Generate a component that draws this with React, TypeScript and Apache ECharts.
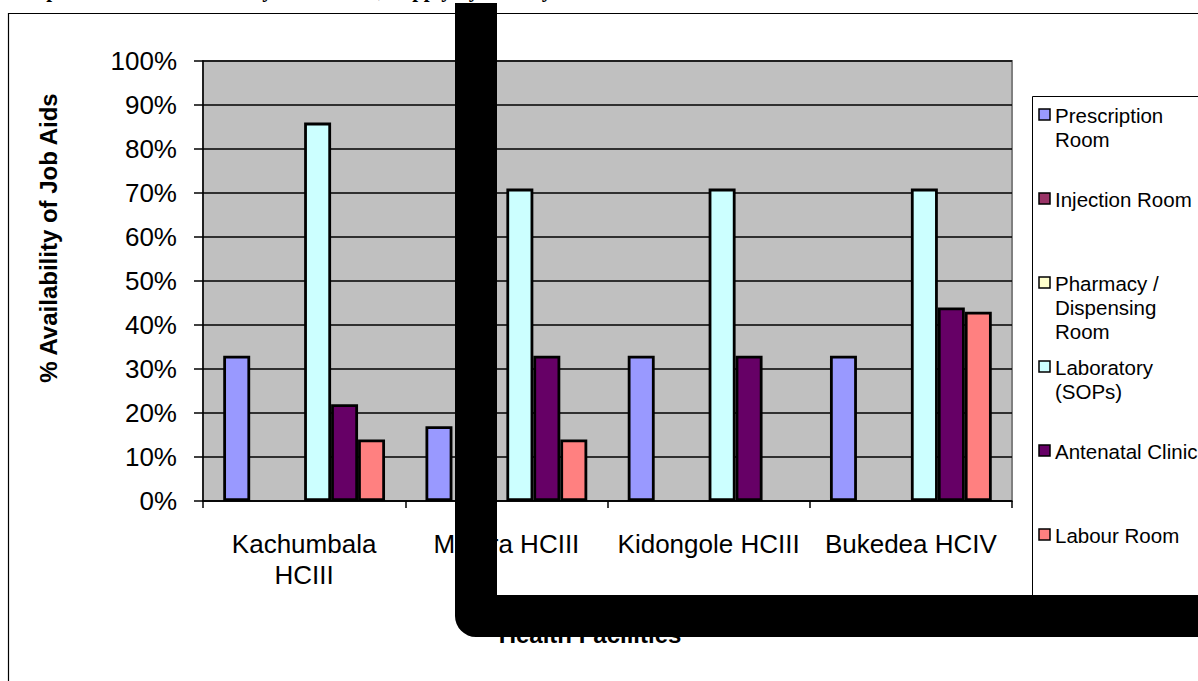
import React, { useEffect, useRef } from "react";
import * as echarts from "echarts";

const titleText = "Graph 5: Overall Availability of Job Aids, Supply by Facility";
const categories = ["Kachumbala\nHCIII", "Malera HCIII", "Kidongole HCIII", "Bukedea HCIV"];
const seriesNames = [
  "Prescription Room",
  "Injection Room",
  "Pharmacy / Dispensing Room",
  "Laboratory (SOPs)",
  "Antenatal Clinic",
  "Labour Room",
];
const legendLabels = [
  "Prescription\nRoom",
  "Injection Room",
  "Pharmacy /\nDispensing\nRoom",
  "Laboratory\n(SOPs)",
  "Antenatal Clinic",
  "Labour Room",
];
const seriesColors = ["#9999FF", "#993366", "#FFFFCC", "#CCFFFF", "#660066", "#FF8080"];

const prescription = [33, 17, 33, 33];
const injection = [0, 0, 0, 0];
const pharmacy = [0, 0, 0, 0];
const laboratory = [86, 71, 71, 71];
const antenatal = [22, 33, 33, 44];
const labour = [14, 14, 0, 43];
const seriesValues = [prescription, injection, pharmacy, laboratory, antenatal, labour];

const yMin = 0;
const yMax = 100;
const yStep = 10;
const yTitle = "% Availability of Job Aids";
const xTitle = "Health Facilities";

export default function App() {
  const ref = useRef<HTMLDivElement>(null);

  useEffect(() => {
    if (!ref.current) return;
    const chart = echarts.init(ref.current, undefined, { renderer: "svg" });

    const legendGraphics: any[] = [];
    legendGraphics.push({
      type: "rect",
      shape: { x: 1032.5, y: 96.5, width: 220, height: 540 },
      style: { fill: "#fff", stroke: "#000", lineWidth: 1 },
      z: 10,
    });
    legendLabels.forEach((lbl, i) => {
      const cy = 115 + 84 * i;
      legendGraphics.push({
        type: "rect",
        shape: { x: 1039, y: cy - 6, width: 11, height: 11 },
        style: { fill: seriesColors[i], stroke: "#000", lineWidth: 1.5 },
        z: 11,
      });
      legendGraphics.push({
        type: "text",
        x: 1055,
        y: cy - 12,
        style: {
          text: lbl,
          font: '20.5px Arial, "Liberation Sans", sans-serif',
          fill: "#000",
          lineHeight: 24,
          verticalAlign: "top",
          align: "left",
        },
        z: 11,
      });
    });

    chart.setOption({
      animation: false,
      backgroundColor: "#fff",
      grid: {
        left: 203,
        top: 61,
        width: 809,
        height: 440,
        show: true,
        backgroundColor: "#C0C0C0",
        borderColor: "#808080",
        borderWidth: 2,
        containLabel: false,
      },
      xAxis: {
        type: "category",
        data: categories,
        axisLine: { show: true, lineStyle: { color: "#000", width: 1.5 } },
        axisTick: { show: true, length: 7, lineStyle: { color: "#000", width: 1.5 } },
        axisLabel: {
          fontFamily: 'Arial, "Liberation Sans", sans-serif',
          fontSize: 26,
          color: "#000",
          margin: 27,
          lineHeight: 31,
          interval: 0,
        },
        splitLine: { show: false },
      },
      yAxis: {
        type: "value",
        min: yMin,
        max: yMax,
        interval: yStep,
        axisLine: { show: true, lineStyle: { color: "#000", width: 1.5 } },
        axisTick: { show: true, length: 9, lineStyle: { color: "#000", width: 1.5 } },
        axisLabel: {
          formatter: "{value}%",
          fontFamily: 'Arial, "Liberation Sans", sans-serif',
          fontSize: 26,
          color: "#000",
          margin: 26,
        },
        splitLine: { show: true, lineStyle: { color: "#000", width: 1.5 } },
      },
      series: seriesNames.map((name, i) => ({
        name,
        type: "bar",
        data: seriesValues[i].map((v) => ({
          value: v,
          itemStyle: v === 0 ? { borderWidth: 0 } : undefined,
        })),
        barGap: "0%",
        barCategoryGap: "20%",
        itemStyle: { color: seriesColors[i], borderColor: "#000", borderWidth: 2.8 },
      })),
      graphic: [
        {
          type: "text",
          x: 10,
          y: -10,
          style: {
            text: titleText,
            font: 'bold 21px "Times New Roman", "Liberation Serif", serif',
            fill: "#000",
            verticalAlign: "middle",
            align: "left",
          },
          z: 5,
        },
        {
          type: "rect",
          shape: { x: 8.5, y: 13.5, width: 1300, height: 800 },
          style: { fill: "none", stroke: "#000", lineWidth: 1.2 },
          z: 1,
        },
        {
          type: "text",
          x: 48,
          y: 238,
          rotation: Math.PI / 2,
          style: {
            text: yTitle,
            font: 'bold 24px Arial, "Liberation Sans", sans-serif',
            fill: "#000",
            align: "center",
            verticalAlign: "middle",
          },
          z: 5,
        },
        {
          type: "text",
          x: 590,
          y: 634,
          style: {
            text: xTitle,
            font: 'bold 24px Arial, "Liberation Sans", sans-serif',
            fill: "#000",
            align: "center",
            verticalAlign: "middle",
          },
          z: 5,
        },
        ...legendGraphics,
        {
          type: "polyline",
          shape: { points: [[476, 3], [476, 616], [1260, 616]] },
          style: { fill: "none", stroke: "#000", lineWidth: 42, lineJoin: "round", lineCap: "butt" },
          z: 100,
        },
      ],
    });

    return () => chart.dispose();
  }, []);

  return (
    <div
      ref={ref}
      style={{ position: "absolute", left: 0, top: 0, width: 1198, height: 681 }}
    />
  );
}
